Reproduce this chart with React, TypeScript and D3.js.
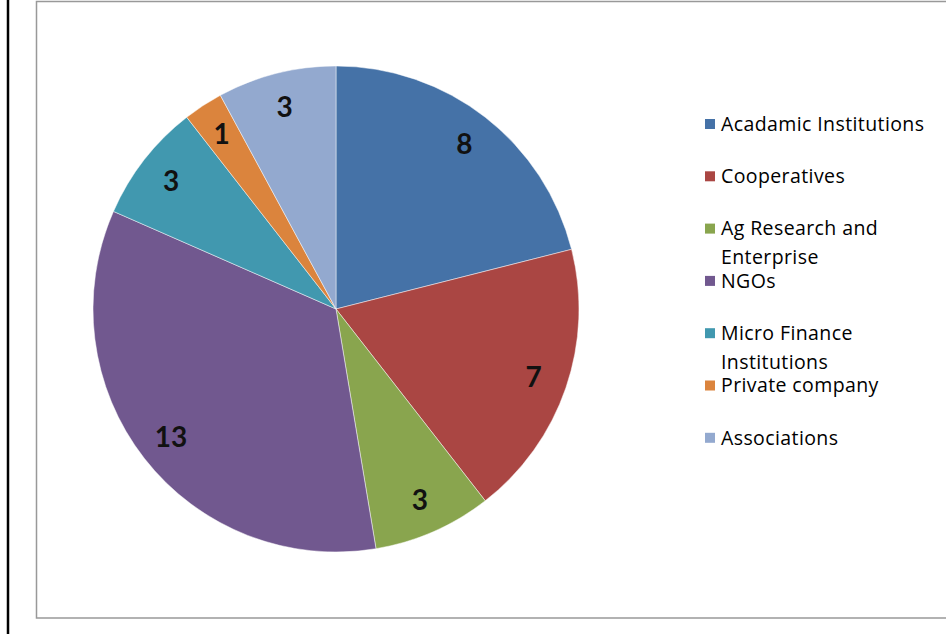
import React, { useRef, useEffect } from 'react';
import * as d3 from 'd3';

const categories = [
  'Acadamic Institutions',
  'Cooperatives',
  'Ag Research and Enterprise',
  'NGOs',
  'Micro Finance Institutions',
  'Private company',
  'Associations'
];
const values = [8, 7, 3, 13, 3, 1, 3];
const legendLines = [
  ['Acadamic Institutions'],
  ['Cooperatives'],
  ['Ag Research and', 'Enterprise'],
  ['NGOs'],
  ['Micro Finance', 'Institutions'],
  ['Private company'],
  ['Associations']
];
const colors = ['#4572A7', '#AA4643', '#89A54E', '#71588F', '#4198AF', '#DB843D', '#93A9CF'];

const W = 946;
const H = 634;
const LABEL_FONT = 'Lato, "Open Sans", sans-serif';
const LEGEND_FONT = '"Open Sans", Lato, sans-serif';

type Slice = { name: string; value: number; i: number };

const App: React.FC = () => {
  const ref = useRef<SVGSVGElement | null>(null);

  useEffect(() => {
    const svg = d3.select(ref.current);
    svg.selectAll('*').remove();

    // outer frame bits
    svg.append('rect').attr('width', W).attr('height', H).attr('fill', '#fff');
    svg.append('line')
      .attr('x1', 8).attr('x2', 8).attr('y1', 0).attr('y2', H)
      .attr('stroke', '#000').attr('stroke-width', 2.5);
    svg.append('rect')
      .attr('x', 36.5).attr('y', 1.5).attr('width', W).attr('height', 616.5)
      .attr('fill', '#fff').attr('stroke', '#999').attr('stroke-width', 1.5);

    const cx = 336;
    const cy = 309;
    const r = 243;

    const data: Slice[] = categories.map((c, i) => ({ name: c, value: values[i], i }));
    const pie = d3.pie<Slice>().value((d) => d.value).sort(null);
    const arcs = pie(data);
    const arc = d3.arc<d3.PieArcDatum<Slice>>().innerRadius(0).outerRadius(r);
    const labelArc = d3.arc<d3.PieArcDatum<Slice>>()
      .innerRadius(r * 0.86).outerRadius(r * 0.86);

    const g = svg.append('g').attr('transform', `translate(${cx},${cy})`);
    g.selectAll('path.slice')
      .data(arcs)
      .enter()
      .append('path')
      .attr('class', 'slice')
      .attr('d', arc as any)
      .attr('fill', (d) => colors[d.data.i])
      .attr('stroke', 'rgba(255,255,255,0.6)')
      .attr('stroke-width', 0.8);

    g.selectAll('text.lbl')
      .data(arcs)
      .enter()
      .append('text')
      .attr('class', 'lbl')
      .attr('transform', (d) => {
        const [x, y] = labelArc.centroid(d);
        return `translate(${x},${y})`;
      })
      .attr('text-anchor', 'middle')
      .attr('dy', '0.36em')
      .attr('font-family', LABEL_FONT)
      .attr('font-weight', 'bold')
      .attr('font-size', 28)
      .attr('fill', '#111')
      .text((d) => String(d.data.value));

    // legend
    const leg = svg.append('g');
    legendLines.forEach((lines, i) => {
      const y = 124 + i * 52.3;
      leg.append('rect')
        .attr('x', 705).attr('y', y - 5).attr('width', 10).attr('height', 10)
        .attr('fill', colors[i]);
      lines.forEach((t, j) => {
        leg.append('text')
          .attr('x', 721)
          .attr('y', y + j * 29)
          .attr('dy', '0.35em')
          .attr('font-family', LEGEND_FONT)
          .attr('font-size', 19.5)
          .attr('letter-spacing', 0.4)
          .attr('fill', '#000')
          .text(t);
      });
    });
  }, []);

  return (
    <svg
      ref={ref}
      width={W}
      height={H}
      style={{ position: 'absolute', left: 0, top: 0 }}
    />
  );
};

export default App;
